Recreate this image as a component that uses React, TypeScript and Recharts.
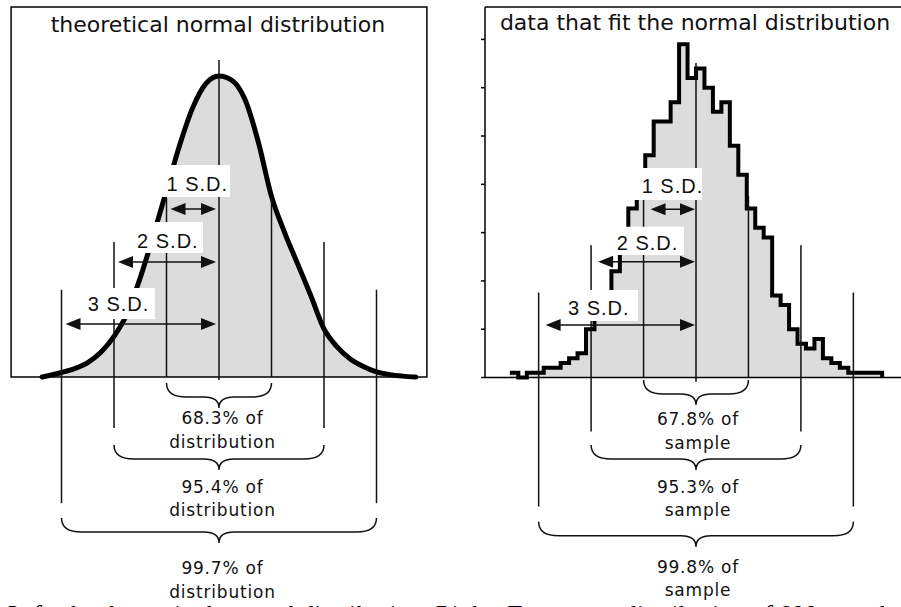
import React from "react";
import { ComposedChart, Area, XAxis, YAxis, ReferenceLine, ReferenceArea, ReferenceDot } from "recharts";

// Left: theoretical curve, x in S.D. units, height in % of the peak
const curveSd = [-3.37, -3.0, -2.75, -2.5, -2.25, -2.0, -1.75, -1.5, -1.25, -1.0, -0.75, -0.5, -0.25, 0, 0.25, 0.5, 0.75, 1.0, 1.25, 1.5, 1.75, 2.0, 2.25, 2.5, 2.75, 3.0, 3.25, 3.5, 3.75];
const curveHeight = [0, 1.5, 2.8, 4.8, 8.2, 13.5, 21, 33, 47, 62, 77, 89.5, 97.5, 100, 98.5, 92, 78, 60, 48, 37.5, 27, 16, 10, 6, 3.5, 1.7, 0.8, 0.3, 0];

// Right: sample histogram, x in bin units (bin 0 starts at the mean)
const FIRST_BIN = -22;
const binCounts = [1, 0, 1, 1, 2, 2, 3, 4, 5, 10, 13, 17, 22, 30, 35, 40, 46, 53, 53, 57, 69, 62, 64, 60, 55, 57, 48, 42, 35, 31, 29, 17, 15, 10, 7, 6, 8, 4, 3, 2, 1, 1, 1, 1];
const SD_IN_BINS = 6.2;
const countTicks = [0, 10, 20, 30, 40, 50, 60, 70];

const sdMarks = [-3, -2, -1, 0, 1, 2, 3];
const sdLabels = ["1 S.D.", "2 S.D.", "3 S.D."];
const leftShares = ["68.3% of", "95.4% of", "99.7% of"];
const rightShares = ["67.8% of", "95.3% of", "99.8% of"];

const curveData = curveSd.map((x, i) => ({ x, h: curveHeight[i] }));
const histData = [
  ...binCounts.map((c, i) => ({ x: FIRST_BIN + i, count: c })),
  { x: FIRST_BIN + binCounts.length, count: 0 },
];

const INK = "#111";

// annotation layout for each panel, in that panel's data units
const leftLayout = {
  unit: 1,
  xDomain: [-4.1714, 4.4],
  yDomain: [-76.4, 125.25],
  lineTop: [105.3, 59.5, 44.85, 29],
  lineBottom: [-1, 0, -16.9, -41.9],
  arrowY: [55.8, 38.2, 17.6],
  arrowInset: [4, 3],
  labelPos: [{ x: -1.0, y: 64.1 }, { x: -1.56, y: 45.2 }, { x: -2.5, y: 24.4 }],
  boxes: [
    { x1: -1.314, x2: 0.21, y1: 59.8, y2: 70.4 },
    { x1: -1.638, x2: -0.305, y1: 41.2, y2: 51.5 },
    { x1: -2.57, x2: -1.22, y1: 19.27, y2: 29.6 },
  ],
  braceTop: [-2.0, -22.6, -46.85],
  shareY: [-13.62, -36.45, -63.56],
  shareDx: 3.5,
  shares: leftShares,
  word: "distribution",
};

const rightLayout = {
  unit: SD_IN_BINS,
  xDomain: [-24.94, 24.23],
  yDomain: [-47.51, 78.16],
  lineTop: [65.1, 37.5, 27.4, 17.6],
  lineBottom: [-0.87, 0, -11.2, -26.7],
  arrowY: [34.83, 23.98, 10.87],
  arrowInset: [7, 1],
  labelPos: [{ x: -6.42, y: 39.75 }, { x: -9.37, y: 27.79 }, { x: -15.13, y: 14.33 }],
  boxes: [
    { x1: -7.33, x2: 0.71, y1: 36.75, y2: 43.38 },
    { x1: -11.47, x2: -1.42, y1: 25.36, y2: 31.2 },
    { x1: -15.72, x2: -6.86, y1: 11.69, y2: 18.12 },
  ],
  braceTop: [-0.52, -13.97, -29.86],
  shareY: [-8.66, -22.6, -39.17],
  shareDx: 2,
  shares: rightShares,
  word: "sample",
};

const arrowShape = (inset0: number, inset1: number) => (p: any) => {
  const a = Math.min(p.x1, p.x2) + inset0;
  const b = Math.max(p.x1, p.x2) - inset1;
  const y = p.y1;
  const L = 15;
  const H = 6;
  return (
    <g>
      <line x1={a + 4} y1={y} x2={b - 4} y2={y} stroke={INK} strokeWidth={1.6} />
      <polygon points={`${a},${y} ${a + L},${y - H} ${a + L},${y + H}`} fill={INK} />
      <polygon points={`${b},${y} ${b - L},${y - H} ${b - L},${y + H}`} fill={INK} />
    </g>
  );
};

const braceShape = (p: any) => {
  const x1 = Math.min(p.x1, p.x2);
  const x2 = Math.max(p.x1, p.x2);
  const y = p.y1;
  const mid = (x1 + x2) / 2;
  const re = 20;
  const rm = 15;
  const yh = y + 14;
  const yt = yh + 11;
  const d = `M${x1},${y} Q${x1},${yh} ${x1 + re},${yh} L${mid - rm},${yh} Q${mid},${yh} ${mid},${yt} Q${mid},${yh} ${mid + rm},${yh} L${x2 - re},${yh} Q${x2},${yh} ${x2},${y}`;
  return <path d={d} fill="none" stroke={INK} strokeWidth={1.5} />;
};

const sdTextShape = (text: string) => (p: any) => (
  <text x={p.cx} y={p.cy} dominantBaseline="central" fill={INK} fontFamily="Liberation Sans, Arial, sans-serif" fontSize={20} letterSpacing={1}>
    {text}
  </text>
);

const shareTextShape = (first: string, second: string, dx: number) => (p: any) => (
  <g fill={INK} fontFamily="DejaVu Sans, sans-serif" fontSize={17} letterSpacing={0.8} textAnchor="middle">
    <text x={p.cx + dx} y={p.cy} dominantBaseline="central">{first}</text>
    <text x={p.cx + dx} y={p.cy + 23.5} dominantBaseline="central">{second}</text>
  </g>
);

// no tick labels on the count axis, only the tick marks
const noTickLabel = () => <g />;

function Annotations(lay: typeof leftLayout) {
  const u = lay.unit;
  return [
    ...sdMarks.map((m) => {
      const k = Math.abs(m);
      return (
        <ReferenceLine
          key={`sd${m}`}
          segment={[{ x: m * u, y: lay.lineBottom[k] }, { x: m * u, y: lay.lineTop[k] }]}
          stroke={INK}
          strokeWidth={1.5}
          ifOverflow="visible"
          zIndex={650}
        />
      );
    }),
    ...lay.boxes.map((b, i) => (
      <ReferenceArea key={`box${i}`} x1={b.x1} x2={b.x2} y1={b.y1} y2={b.y2} fill="#fff" fillOpacity={1} stroke="none" ifOverflow="visible" zIndex={700} />
    )),
    ...lay.arrowY.map((y, i) => (
      <ReferenceLine
        key={`arr${i}`}
        segment={[{ x: -(i + 1) * u, y }, { x: 0, y }]}
        shape={arrowShape(lay.arrowInset[0], lay.arrowInset[1])}
        ifOverflow="visible"
        zIndex={750}
      />
    )),
    ...lay.labelPos.map((pos, i) => (
      <ReferenceDot key={`lab${i}`} x={pos.x} y={pos.y} r={0} shape={sdTextShape(sdLabels[i])} ifOverflow="visible" zIndex={800} />
    )),
    ...lay.braceTop.map((y, i) => (
      <ReferenceLine
        key={`brace${i}`}
        segment={[{ x: -(i + 1) * u, y }, { x: (i + 1) * u, y }]}
        shape={braceShape}
        ifOverflow="visible"
        zIndex={650}
      />
    )),
    ...lay.shareY.map((y, i) => (
      <ReferenceDot key={`share${i}`} x={0} y={y} r={0} shape={shareTextShape(lay.shares[i], lay.word, lay.shareDx)} ifOverflow="visible" zIndex={800} />
    )),
  ];
}

const titleStyle: React.CSSProperties = {
  position: "absolute",
  width: 400,
  textAlign: "center",
  fontFamily: "DejaVu Sans, sans-serif",
  fontSize: 22,
  lineHeight: "30px",
  color: INK,
  whiteSpace: "nowrap",
};

export default function App() {
  return (
    <div style={{ position: "absolute", left: 0, top: 0, width: 901, height: 607, background: "#fff", overflow: "hidden" }}>
      <div style={{ position: "absolute", left: 0, top: 0 }}>
        <ComposedChart width={450} height={607} margin={{ top: 0, right: 0, bottom: 0, left: 0 }}>
          <XAxis type="number" dataKey="x" domain={leftLayout.xDomain} allowDataOverflow hide />
          <YAxis type="number" domain={leftLayout.yDomain} allowDataOverflow hide />
          <Area
            data={curveData}
            dataKey="h"
            type="monotone"
            baseValue={0}
            stroke="#000"
            strokeWidth={5}
            strokeLinejoin="round"
            strokeLinecap="round"
            fill="#dcdcdc"
            fillOpacity={1}
            dot={false}
            activeDot={false}
            isAnimationActive={false}
            zIndex={100}
          />
          <ReferenceArea x1={-3.96} x2={3.96} y1={0} y2={122.9} fill="none" stroke="#000" strokeWidth={1.5} ifOverflow="visible" zIndex={650} />
          {Annotations(leftLayout)}
        </ComposedChart>
      </div>
      <div style={{ position: "absolute", left: 450, top: 0 }}>
        <ComposedChart width={451} height={607} margin={{ top: 0, right: 0, bottom: 0, left: 0 }}>
          <XAxis type="number" dataKey="x" domain={rightLayout.xDomain} allowDataOverflow hide />
          <YAxis
            type="number"
            width={35}
            domain={rightLayout.yDomain}
            allowDataOverflow
            ticks={countTicks}
            interval={0}
            tick={noTickLabel}
            tickSize={4}
            tickLine={{ stroke: "#000", strokeWidth: 1.5 }}
            axisLine={false}
          />
          <Area
            data={histData}
            dataKey="count"
            type="stepAfter"
            baseValue={0}
            stroke="#000"
            strokeWidth={4}
            fill="#dcdcdc"
            fillOpacity={1}
            dot={false}
            activeDot={false}
            isAnimationActive={false}
            zIndex={100}
          />
          <ReferenceLine y={0} stroke="#000" strokeWidth={1.5} zIndex={650} />
          <ReferenceLine y={76.7} stroke="#000" strokeWidth={1.5} zIndex={650} />
          <ReferenceLine
            segment={[{ x: rightLayout.xDomain[0], y: 0 }, { x: rightLayout.xDomain[0], y: 76.7 }]}
            stroke="#000"
            strokeWidth={1.5}
            ifOverflow="visible"
            zIndex={650}
          />
          {Annotations(rightLayout)}
        </ComposedChart>
      </div>
      <div style={{ ...titleStyle, left: 18, top: 10 }}>theoretical normal distribution</div>
      <div style={{ ...titleStyle, left: 495, top: 8 }}>data that fit the normal distribution</div>
      <div
        style={{
          position: "absolute",
          left: 6,
          top: 602,
          fontFamily: "Liberation Serif, serif",
          fontStyle: "italic",
          fontSize: 26,
          lineHeight: "26px",
          whiteSpace: "nowrap",
          color: "#000",
        }}
      >
        Left: the theoretical normal distribution. Right: Frequency distribution of 600 samples that fit the normal distribution.
      </div>
    </div>
  );
}
